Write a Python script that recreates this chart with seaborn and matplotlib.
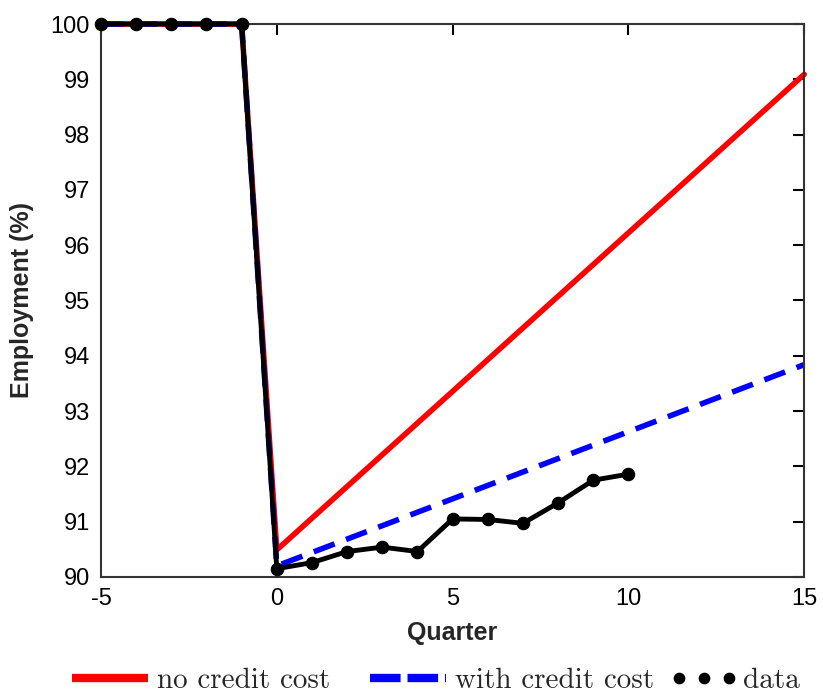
import matplotlib
matplotlib.use("Agg")
import matplotlib.pyplot as plt
from matplotlib.lines import Line2D
from matplotlib.legend_handler import HandlerLine2D
import seaborn as sns
import pandas as pd
import numpy as np

# Data
data_q = [-5, -4, -3, -2, -1, 0, 1, 2, 3, 4, 5, 6, 7, 8, 9, 10]
data_emp = [100, 100, 100, 100, 100, 90.15, 90.26, 90.46, 90.54, 90.46,
            91.05, 91.04, 90.97, 91.34, 91.75, 91.86]

nocc_q = [-5, -1, 0, 15]
nocc_emp = [100, 100, 90.49, 99.09]

wcc_q = [-5, -1, 0, 15]
wcc_emp = [100, 100, 90.2, 93.84]

xticks = [-5, 0, 5, 10, 15]
yticks = [90, 91, 92, 93, 94, 95, 96, 97, 98, 99, 100]

sns.set_style("white")
plt.rcParams['font.family'] = ['Liberation Sans', 'DejaVu Sans']

fig = plt.figure(figsize=(8.23, 6.96), dpi=100)
ax = fig.add_axes([0.1227, 0.171, 0.8545, 0.7945])

df_n = pd.DataFrame({"q": nocc_q, "e": nocc_emp})
df_w = pd.DataFrame({"q": wcc_q, "e": wcc_emp})
df_d = pd.DataFrame({"q": data_q, "e": data_emp})

sns.lineplot(data=df_n, x="q", y="e", ax=ax, color="#ff0000", lw=4,
             sort=False, estimator=None)
sns.lineplot(data=df_w, x="q", y="e", ax=ax, color="#0000ff", lw=4,
             sort=False, estimator=None, dashes=False)
ax.lines[-1].set_dashes([4, 2.2])
sns.lineplot(data=df_d, x="q", y="e", ax=ax, color="black", lw=3.5,
             sort=False, estimator=None, marker="o", markersize=9,
             markeredgecolor="black", zorder=5)
for ln in ax.lines:
    ln.set_clip_on(False)

ax.set_xlim(-5, 15)
ax.set_ylim(90, 100)
ax.set_xticks(xticks)
ax.set_yticks(yticks)
ax.set_xticklabels([str(t) for t in xticks])
ax.set_yticklabels([str(t) for t in yticks])
ax.tick_params(direction="in", length=8, width=1.5, labelsize=17,
               top=True, right=True, labeltop=False, labelright=False,
               labelleft=True, labelbottom=True, pad=8, colors="black")
for sp in ax.spines.values():
    sp.set_visible(True)
    sp.set_linewidth(1.5)
    sp.set_color("#333333")

ax.set_xlabel("Quarter", fontsize=18, fontweight="bold", labelpad=8)
ax.set_ylabel("Employment (%)", fontsize=18, fontweight="bold", labelpad=12)


class BoxHandler(HandlerLine2D):
    """Line handler with its own box width and x positions (points)."""
    def __init__(self, box_w, xs, **kw):
        super().__init__(**kw)
        self.box_w = box_w
        self.xs = xs

    def legend_artist(self, legend, orig_handle, fontsize, handlebox):
        handlebox.width = self.box_w
        return super().legend_artist(legend, orig_handle, fontsize, handlebox)

    def get_xdata(self, legend, xdescent, ydescent, width, height, fontsize):
        xs = np.asarray(self.xs, float) - xdescent
        return xs, xs


h_red = Line2D([], [], color="#ff0000", lw=6, solid_capstyle="butt")
h_blue = Line2D([], [], color="#0000ff", lw=6, dashes=[3.67, 0.83],
                dash_capstyle="butt")
h_data = Line2D([], [], color="black", lw=0, marker="o", markersize=7.4)
handles = [h_red, h_blue, h_data]
labels = ["no credit cost", "with credit cost", "data"]
hmap = {
    h_red: BoxHandler(54.7, [0, 54.7]),
    h_blue: BoxHandler(74.2, [19.5, 74.2]),
    h_data: BoxHandler(48.2, [8.6, 26.6, 44.6]),
}
fig.legend(handles, labels, loc="center", bbox_to_anchor=(0.530, 0.022),
           ncol=3, frameon=False, numpoints=3, handlelength=2.6,
           columnspacing=0.446, handletextpad=0.31, handler_map=hmap,
           prop={"family": "cmr10", "size": 21})

fig.savefig("out.png", dpi=100)
